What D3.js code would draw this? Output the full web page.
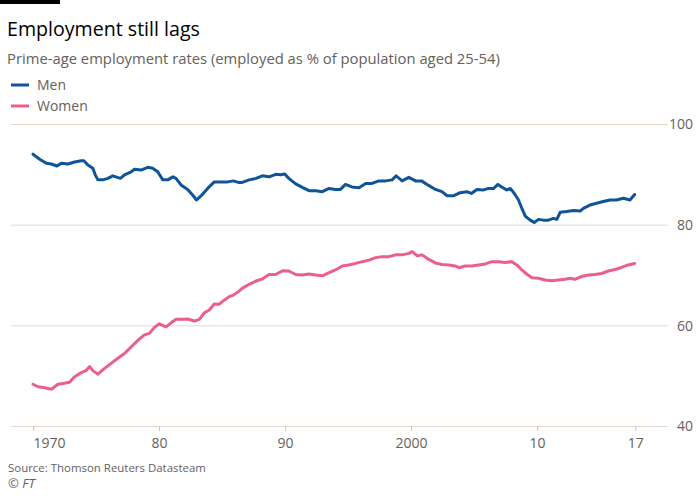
<!DOCTYPE html>
<html><head><meta charset="utf-8">
<script src="https://cdn.jsdelivr.net/npm/d3@7"></script>
<style>
html,body{margin:0;padding:0;background:#fff;}
svg{display:block;}
text{font-family:"Open Sans",sans-serif;}
</style></head>
<body>
<svg id="chart" width="700" height="496"></svg>
<script>
const title = "Employment still lags";
const subtitle = "Prime-age employment rates (employed as % of population aged 25-54)";
const seriesNames = ["Men", "Women"];
const seriesColors = ["#0f5499", "#eb5e8d"];
const yTicks = [40, 60, 80, 100];
const xTickValues = [1970, 1980, 1990, 2000, 2010, 2017.8];
const xTickLabels = ["1970", "80", "90", "2000", "10", "17"];
const source = "Source: Thomson Reuters Datasteam";

const menYears = [1970.0,1970.53,1971.06,1971.45,1971.9,1972.25,1972.77,1973.3,1973.83,1974.04,1974.36,1974.75,1974.94,1975.15,1975.54,1975.94,1976.33,1976.94,1977.26,1977.79,1978.05,1978.58,1979.1,1979.5,1979.9,1980.3,1980.7,1981.1,1981.35,1981.75,1982.27,1982.67,1982.98,1983.33,1983.86,1984.39,1984.9,1985.44,1985.9,1986.3,1986.6,1987.16,1987.7,1988.2,1988.74,1989.27,1989.67,1989.98,1990.3,1990.85,1991.38,1991.9,1992.44,1992.96,1993.5,1994.0,1994.4,1994.8,1995.3,1995.87,1996.4,1996.9,1997.45,1997.98,1998.5,1998.82,1999.3,1999.83,2000.36,2000.83,2001.4,2001.94,2002.46,2002.86,2003.4,2003.9,2004.44,2004.79,2005.23,2005.76,2006.16,2006.56,2006.9,2007.2,2007.6,2007.88,2008.2,2008.53,2008.8,2009.07,2009.46,2009.78,2010.12,2010.5,2010.9,2011.3,2011.57,2011.84,2012.36,2012.9,2013.42,2013.68,2014.2,2014.73,2015.26,2015.8,2016.3,2016.85,2017.24,2017.38,2017.75];
const menValues = [94.0,93.0,92.2,92.05,91.65,92.2,92.05,92.45,92.7,92.7,91.85,91.2,89.9,88.9,88.9,89.2,89.7,89.2,89.9,90.5,91.0,90.85,91.4,91.2,90.5,88.9,88.9,89.5,89.2,87.9,87.0,85.9,84.9,85.7,87.2,88.5,88.5,88.5,88.7,88.4,88.4,88.9,89.2,89.7,89.5,90.0,89.9,90.05,89.2,88.1,87.4,86.75,86.75,86.55,87.2,87.0,87.0,88.0,87.5,87.35,88.2,88.2,88.7,88.7,88.9,89.7,88.7,89.4,88.7,88.7,87.8,87.0,86.55,85.75,85.75,86.35,86.55,86.2,87.0,86.9,87.2,87.2,88.0,87.5,86.9,87.2,86.2,84.9,83.25,81.7,80.9,80.45,81.05,80.9,80.9,81.25,81.05,82.45,82.6,82.8,82.7,83.25,83.9,84.25,84.6,84.9,84.9,85.25,85.0,84.9,86.0];

const womenYears = [1970.0,1970.4,1970.93,1971.46,1971.98,1972.5,1972.9,1973.3,1973.83,1974.2,1974.5,1974.75,1975.15,1975.68,1976.2,1976.73,1977.26,1977.8,1978.3,1978.84,1979.24,1979.64,1980.03,1980.56,1980.96,1981.35,1981.88,1982.27,1982.8,1983.2,1983.6,1983.99,1984.39,1984.78,1985.18,1985.57,1985.9,1986.3,1986.6,1987.16,1987.7,1988.2,1988.74,1989.27,1989.8,1990.3,1990.85,1991.38,1991.9,1992.44,1992.96,1993.5,1994.0,1994.55,1995.07,1995.6,1996.13,1996.66,1997.2,1997.7,1998.24,1998.77,1999.3,1999.83,2000.09,2000.5,2000.88,2001.4,2001.94,2002.46,2002.99,2003.5,2003.8,2004.3,2004.84,2005.37,2005.9,2006.42,2006.95,2007.48,2008.0,2008.4,2008.8,2009.2,2009.6,2010.12,2010.65,2011.17,2011.7,2012.23,2012.63,2013.0,2013.55,2014.08,2014.6,2015.13,2015.66,2016.2,2016.7,2017.24,2017.75];
const womenValues = [48.3,47.8,47.6,47.3,48.3,48.5,48.7,49.8,50.6,51.0,51.8,51.0,50.3,51.45,52.45,53.45,54.4,55.75,56.95,58.1,58.4,59.6,60.3,59.7,60.5,61.2,61.2,61.25,60.85,61.2,62.5,63.05,64.25,64.2,65.0,65.7,66.0,66.7,67.35,68.15,68.8,69.2,70.1,70.1,70.85,70.8,70.1,70.0,70.2,70.0,69.85,70.45,71.0,71.8,72.0,72.3,72.65,72.95,73.45,73.65,73.65,74.0,74.0,74.3,74.65,73.8,74.0,73.1,72.4,72.1,72.0,71.8,71.45,71.8,71.8,72.0,72.2,72.65,72.65,72.5,72.65,72.0,71.0,70.15,69.45,69.35,69.0,68.85,69.0,69.15,69.35,69.15,69.7,70.0,70.1,70.3,70.8,71.1,71.5,72.0,72.3];

const svg = d3.select("#chart");
const grey = "#66605c";
const gridColor = "#e6d9ce";

// top black bar
svg.append("rect").attr("x",0).attr("y",0).attr("width",60).attr("height",4).attr("fill","#000");

function fit(sel, target){
  const w = sel.node().getComputedTextLength();
  const fs = parseFloat(sel.attr("font-size"));
  sel.attr("font-size", fs*target/w);
}

const t = svg.append("text").attr("x",7).attr("y",36).attr("font-size",20).attr("fill","#000").text(title);
fit(t,193);
const st = svg.append("text").attr("x",7).attr("y",64).attr("font-size",15).attr("fill",grey).text(subtitle);
fit(st,493);

// legend
seriesNames.forEach((n,i)=>{
  const yy = 85 + i*21;
  svg.append("line").attr("x1",11).attr("x2",29).attr("y1",yy).attr("y2",yy)
    .attr("stroke",seriesColors[i]).attr("stroke-width",3);
  svg.append("text").attr("x",37).attr("y",yy+5).attr("font-size",14).attr("fill",grey).text(n);
});

const x = d3.scaleLinear().domain([1970, 2018]).range([33, 637.8]);
const y = d3.scaleLinear().domain([40, 100]).range([426, 124]);

// gridlines + y labels (right)
const yAxis = d3.axisRight(y).tickValues(yTicks).tickSize(657).tickFormat(d3.format("d"));
const gy = svg.append("g").attr("transform","translate(11,0)").call(yAxis);
gy.select(".domain").remove();
gy.selectAll(".tick line").attr("stroke",gridColor).attr("stroke-width",1);
gy.selectAll(".tick text").attr("x",682).attr("text-anchor","end").attr("dy","0.35em")
  .attr("font-size",14).attr("fill",grey).attr("font-family","'Open Sans',sans-serif");

// x axis
const xAxis = d3.axisBottom(x).tickValues(xTickValues).tickSize(5).tickPadding(6)
  .tickFormat((d,i)=>xTickLabels[i]);
const gx = svg.append("g").attr("transform","translate(0,426)").call(xAxis);
gx.select(".domain").remove();
gx.selectAll(".tick line").attr("stroke","#d4c8bd");
gx.selectAll(".tick text").attr("font-size",14).attr("fill",grey).attr("font-family","'Open Sans',sans-serif")
  .attr("text-anchor",(d,i)=> i===0 ? "start" : "middle").attr("dy","0.75em");

// lines
const line = d3.line().x(d=>x(d[0])).y(d=>y(d[1]));
const men = menYears.map((yr,i)=>[yr, menValues[i]]);
const women = womenYears.map((yr,i)=>[yr, womenValues[i]]);
[men, women].forEach((s,i)=>{
  svg.append("path").datum(s).attr("d",line).attr("fill","none")
    .attr("stroke",seriesColors[i]).attr("stroke-width",3).attr("stroke-linejoin","round").attr("stroke-linecap","round");
});

const src = svg.append("text").attr("x",8).attr("y",472).attr("font-size",13).attr("fill",grey).text(source);
fit(src,198);
const ft = svg.append("text").attr("x",8).attr("y",488).attr("font-size",13).attr("fill",grey);
ft.append("tspan").text("© ");
ft.append("tspan").attr("font-style","italic").text("FT");
</script>
</body></html>
